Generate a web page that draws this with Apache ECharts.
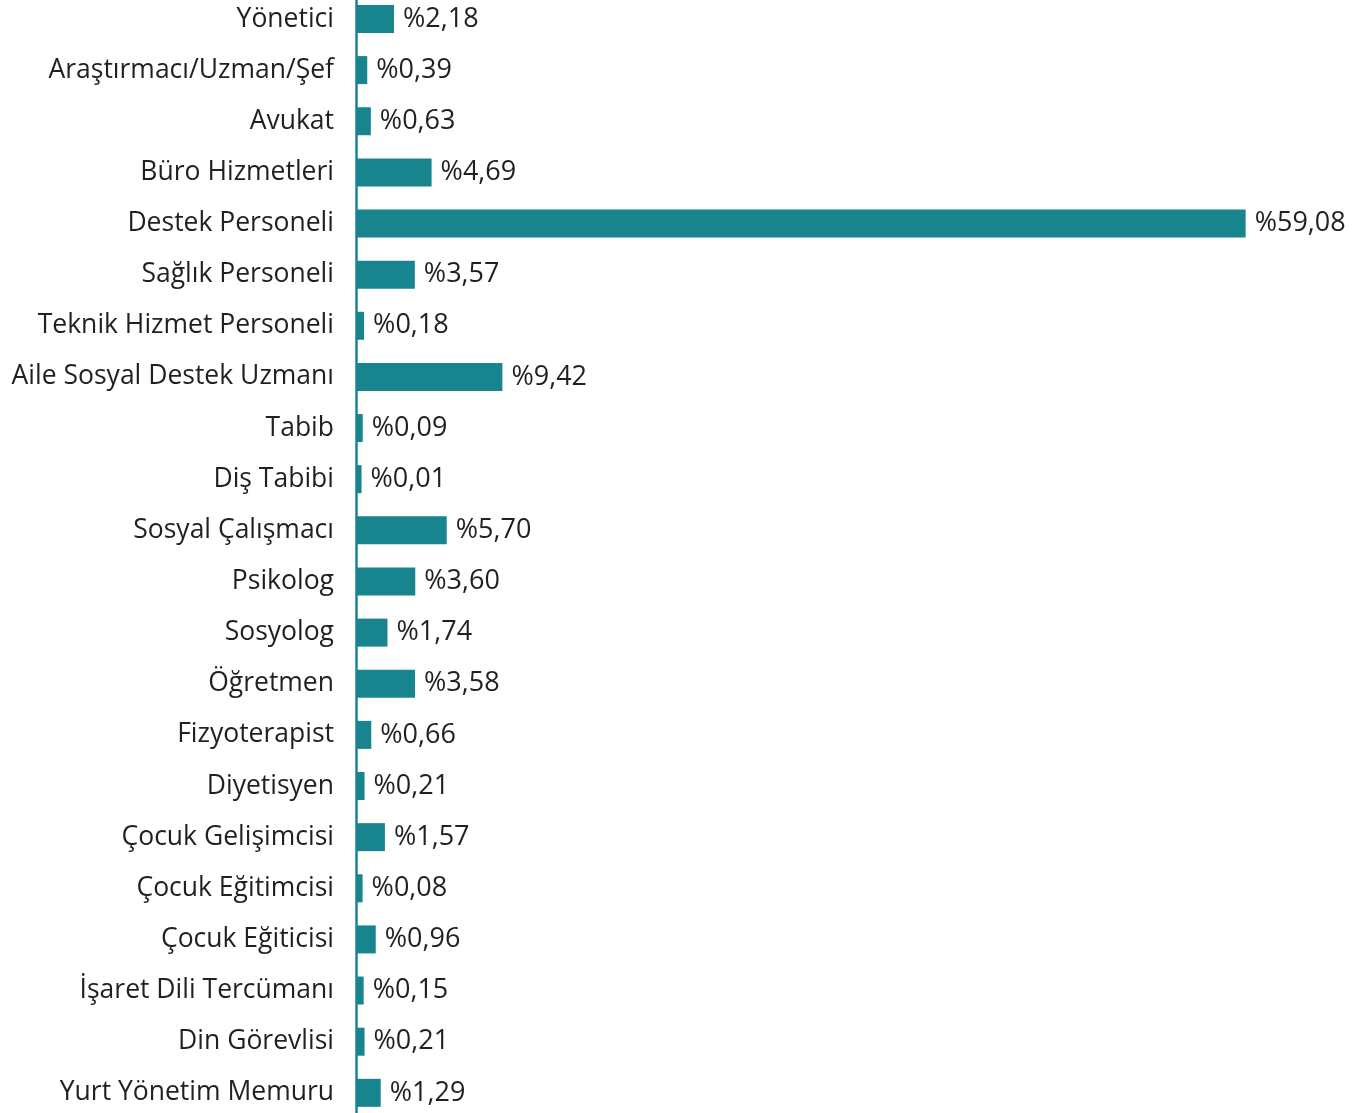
<!DOCTYPE html>
<html lang="tr">
<head>
    <meta charset="UTF-8">
    <title>Unvan Dağılımı</title>
    <script src="https://cdn.jsdelivr.net/npm/echarts@6/dist/echarts.min.js"></script>
    <style>
        html, body { margin: 0; padding: 0; background: #fff; }
    </style>
</head>
<body>
    <div id="chart" style="width: 1365px; height: 1113px;"></div>
</body>
</html>
<script>
    var categories = ['Yönetici', 'Araştırmacı/Uzman/Şef', 'Avukat', 'Büro Hizmetleri', 'Destek Personeli',
        'Sağlık Personeli', 'Teknik Hizmet Personeli', 'Aile Sosyal Destek Uzmanı', 'Tabib', 'Diş Tabibi',
        'Sosyal Çalışmacı', 'Psikolog', 'Sosyolog', 'Öğretmen', 'Fizyoterapist', 'Diyetisyen',
        'Çocuk Gelişimcisi', 'Çocuk Eğitimcisi', 'Çocuk Eğiticisi', 'İşaret Dili Tercümanı',
        'Din Görevlisi', 'Yurt Yönetim Memuru'];
    var values = [2.18, 0.39, 0.63, 4.69, 59.08, 3.57, 0.18, 9.42, 0.09, 0.01,
        5.70, 3.60, 1.74, 3.58, 0.66, 0.21, 1.57, 0.08, 0.96, 0.15, 0.21, 1.29];

    var teal = '#18848e';
    var textColor = '#231f20';
    var font = '"Open Sans", "Noto Sans", sans-serif';

    var chart = echarts.init(document.getElementById('chart'));
    chart.setOption({
        animation: false,
        grid: { left: 356, width: 898, top: -6.6, height: 1125, containLabel: false, outerBoundsMode: 'none' },
        xAxis: {
            type: 'value', min: 0, max: 60,
            show: false
        },
        yAxis: {
            type: 'category',
            inverse: true,
            data: categories,
            axisLine: { show: true, lineStyle: { color: teal, width: 2.5 } },
            axisTick: { show: false },
            axisLabel: { color: textColor, fontSize: 26.5, fontFamily: font, margin: 22 }
        },
        series: [{
            type: 'custom',
            encode: { x: 1, y: 0 },
            data: values.map(function (v, i) { return [i, v]; }),
            renderItem: function (params, api) {
                var i = api.value(0);
                var v = api.value(1);
                var start = api.coord([0, i]);
                var end = api.coord([v, i]);
                var h = 28;
                return {
                    type: 'rect',
                    shape: { x: start[0], y: start[1] - h / 2, width: end[0] - start[0] + 5.4, height: h },
                    style: { fill: teal },
                    textContent: {
                        style: {
                            text: '%' + v.toFixed(2).replace('.', ','),
                            fill: textColor, fontSize: 27, fontFamily: font
                        }
                    },
                    textConfig: { position: 'right', distance: 9 }
                };
            }
        }]
    });
    window.onresize = chart.resize;
</script>
